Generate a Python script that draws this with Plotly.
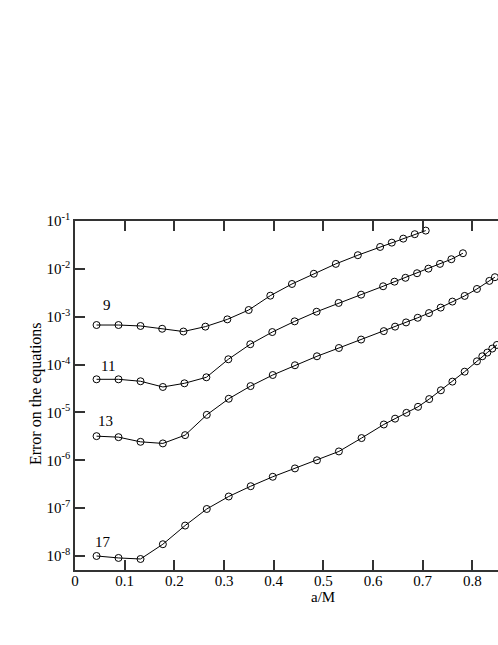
import plotly.graph_objects as go

# a/M values and errors for each resolution
x_9 = [0.0434, 0.0876, 0.1319, 0.1755, 0.2183, 0.2625, 0.3067, 0.3497, 0.3932, 0.4368,
       0.4808, 0.5251, 0.5694, 0.6143, 0.6378, 0.6609, 0.6840, 0.7061]
err_9 = [6.7e-4, 6.7e-4, 6.4e-4, 5.6e-4, 4.9e-4, 6.2e-4, 8.8e-4, 1.38e-3, 2.75e-3, 4.83e-3,
         7.9e-3, 1.27e-2, 1.93e-2, 2.87e-2, 3.53e-2, 4.28e-2, 5.3e-2, 6.3e-2]

x_11 = [0.0434, 0.0876, 0.1319, 0.1769, 0.2203, 0.2645, 0.3087, 0.3529, 0.3972, 0.4422,
        0.4864, 0.5307, 0.5760, 0.6203, 0.6432, 0.6653, 0.6886, 0.7115, 0.7348, 0.7577, 0.7810]
err_11 = [4.92e-5, 4.92e-5, 4.48e-5, 3.4e-5, 4.06e-5, 5.42e-5, 1.29e-4, 2.66e-4, 4.78e-4, 8.0e-4,
          1.27e-3, 1.94e-3, 2.89e-3, 4.33e-3, 5.4e-3, 6.5e-3, 8.1e-3, 1.01e-2, 1.27e-2, 1.59e-2, 2.12e-2]

x_13 = [0.0434, 0.0876, 0.1319, 0.1769, 0.2217, 0.2653, 0.3095, 0.3534, 0.3981, 0.4428,
        0.4871, 0.5313, 0.5760, 0.6217, 0.6444, 0.6665, 0.6900, 0.7127, 0.7362, 0.7598,
        0.7845, 0.8092, 0.8342, 0.8454]
err_13 = [3.19e-6, 3.04e-6, 2.43e-6, 2.25e-6, 3.35e-6, 8.9e-6, 1.93e-5, 3.55e-5, 6.05e-5, 9.67e-5,
          1.49e-4, 2.22e-4, 3.33e-4, 5.0e-4, 6.2e-4, 7.6e-4, 9.5e-4, 1.19e-3, 1.55e-3, 2.07e-3,
          2.72e-3, 3.8e-3, 5.6e-3, 6.7e-3]

x_17 = [0.0434, 0.0876, 0.1319, 0.1769, 0.2217, 0.2653, 0.3095, 0.3537, 0.3981, 0.4428,
        0.4871, 0.5313, 0.5769, 0.6217, 0.6444, 0.6673, 0.6906, 0.7131, 0.7366, 0.7598,
        0.7845, 0.8092, 0.8200, 0.8301, 0.8401, 0.8494]
err_17 = [1.0e-8, 9.1e-9, 8.65e-9, 1.76e-8, 4.32e-8, 9.6e-8, 1.75e-7, 2.87e-7, 4.52e-7, 6.76e-7,
          1.0e-6, 1.53e-6, 2.91e-6, 5.6e-6, 7.4e-6, 9.8e-6, 1.31e-5, 1.9e-5, 2.9e-5, 4.4e-5,
          7.1e-5, 1.17e-4, 1.49e-4, 1.78e-4, 2.16e-4, 2.57e-4]

# curve labels: text, a/M, log10(error)
labels = ['9', '11', '13', '17']
label_x = [0.064, 0.067, 0.061, 0.056]
label_logy = [-2.755, -4.03, -5.176, -7.707]

y_tickvals = [1e-8, 1e-7, 1e-6, 1e-5, 1e-4, 1e-3, 1e-2, 1e-1]
y_ticktext = ['10<sup>-8</sup>', '10<sup>-7</sup>', '10<sup>-6</sup>', '10<sup>-5</sup>',
              '10<sup>-4</sup>', '10<sup>-3</sup>', '10<sup>-2</sup>', '10<sup>-1</sup>']
x_tickvals = [0, 0.1, 0.2, 0.3, 0.4, 0.5, 0.6, 0.7, 0.8]
x_ticktext = ['0', '0.1', '0.2', '0.3', '0.4', '0.5', '0.6', '0.7', '0.8']

FONT = 'Liberation Serif, Times New Roman, serif'

fig = go.Figure()

for xs, ys in [(x_9, err_9), (x_11, err_11), (x_13, err_13), (x_17, err_17)]:
    fig.add_trace(go.Scatter(
        x=xs, y=ys,
        mode='lines+markers',
        line=dict(color='black', width=1),
        marker=dict(symbol='circle-open', size=7, color='black', line=dict(width=1)),
        showlegend=False,
    ))

for txt, lx, ly in zip(labels, label_x, label_logy):
    fig.add_annotation(x=lx, y=ly, text=txt, showarrow=False,
                       font=dict(family=FONT, size=15, color='black'))

# axis titles as annotations, to sit where the original puts them
fig.add_annotation(x=0.4997, y=-0.0765, xref='x', yref='paper', text='a/M',
                   showarrow=False, yanchor='middle',
                   font=dict(family=FONT, size=15, color='black'))
fig.add_annotation(x=-0.0922, y=0.507, xref='paper', yref='paper',
                   text='Error on the equations', textangle=-90,
                   showarrow=False, xanchor='center', yanchor='middle',
                   font=dict(family=FONT, size=16, color='black'))

fig.update_layout(
    width=498, height=645,
    margin=dict(l=75, r=0, t=221, b=75),
    paper_bgcolor='white', plot_bgcolor='white',
    font=dict(family=FONT, size=15, color='black'),
)

fig.update_xaxes(
    range=[0, 0.8516],
    tickvals=x_tickvals, ticktext=x_ticktext,
    ticks='inside', ticklen=10, tickwidth=1.5, tickcolor='#333',
    showline=True, linecolor='#333', linewidth=1.5, mirror='ticks',
    showgrid=False, zeroline=False,
    tickfont=dict(family=FONT, size=15),
    ticklabelstandoff=-4,
)

fig.update_yaxes(
    type='log', range=[-8.293, -1],
    tickvals=y_tickvals, ticktext=y_ticktext,
    ticks='inside', ticklen=10, tickwidth=1.5, tickcolor='#333',
    showline=True, linecolor='#333', linewidth=1.5,
    showgrid=False, zeroline=False,
    tickfont=dict(family=FONT, size=15),
)

# drop the browser's default page margin so the 498x645 figure fills the window
fig.write_html('out.html', config={'displayModeBar': False},
               post_script="document.body.style.margin='0';document.body.style.overflow='hidden';")
